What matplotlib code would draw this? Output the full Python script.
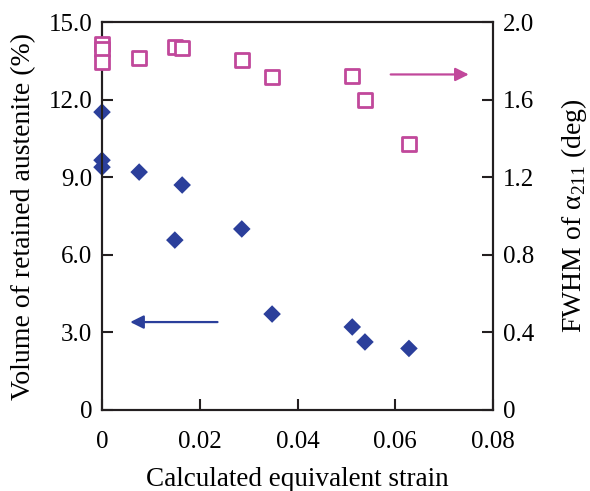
import matplotlib
matplotlib.use("Agg")
import matplotlib.pyplot as plt
from matplotlib.ticker import FixedLocator, FixedFormatter

plt.rcParams["font.family"] = ["Liberation Serif", "DejaVu Serif"]
plt.rcParams["mathtext.fontset"] = "custom"
plt.rcParams["mathtext.rm"] = "Liberation Serif"

# retained austenite (left axis)
strain_ra = [0.0, 0.0, 0.0, 0.0076, 0.0164, 0.0149, 0.0286, 0.0348, 0.0512, 0.0538, 0.0628]
ra_vol = [11.52, 9.66, 9.39, 9.2, 8.7, 6.57, 7.0, 3.71, 3.21, 2.63, 2.38]

# FWHM of alpha211 (right axis)
strain_fw = [0.0, 0.0, 0.0, 0.0076, 0.0149, 0.0164, 0.0286, 0.0348, 0.0512, 0.0538, 0.0628]
fwhm = [1.885, 1.86, 1.795, 1.814, 1.871, 1.866, 1.804, 1.716, 1.72, 1.598, 1.371]

x_ticks = [0, 0.02, 0.04, 0.06, 0.08]
x_labels = ["0", "0.02", "0.04", "0.06", "0.08"]
yl_ticks = [0, 3, 6, 9, 12, 15]
yl_labels = ["0", "3.0", "6.0", "9.0", "12.0", "15.0"]
yr_ticks = [0, 0.4, 0.8, 1.2, 1.6, 2.0]
yr_labels = ["0", "0.4", "0.8", "1.2", "1.6", "2.0"]

BLUE = "#2b3f9b"
MAG = "#c1489b"

fig = plt.figure(figsize=(5.9, 4.91), dpi=100)
ax = fig.add_axes([0.1729, 0.165, 0.6627, 0.790])
ax2 = ax.twinx()

ax.scatter(strain_ra, ra_vol, marker="D", s=80, color=BLUE, edgecolors="none",
           clip_on=False, zorder=3)
ax2.scatter(strain_fw, fwhm, marker="s", s=110, facecolors="white", edgecolors=MAG,
            linewidths=2, clip_on=False, zorder=3)

ax.set_xlim(0, 0.08)
ax.set_ylim(0, 15)
ax2.set_ylim(0, 2.0)

ax.xaxis.set_major_locator(FixedLocator(x_ticks))
ax.xaxis.set_major_formatter(FixedFormatter(x_labels))
ax.yaxis.set_major_locator(FixedLocator(yl_ticks))
ax.yaxis.set_major_formatter(FixedFormatter(yl_labels))
ax2.yaxis.set_major_locator(FixedLocator(yr_ticks))
ax2.yaxis.set_major_formatter(FixedFormatter(yr_labels))

for a in (ax, ax2):
    a.tick_params(direction="in", length=8, width=1.5, labelsize=18, color="#231f20",
                  pad=7)
    for s in a.spines.values():
        s.set_linewidth(1.5)
        s.set_color("#231f20")
ax.tick_params(axis="x", pad=15)

ax.set_xlabel("Calculated equivalent strain", fontsize=19.5, labelpad=10)
ax.set_ylabel("Volume of retained austenite (%)", fontsize=20, labelpad=9)
ax2.set_ylabel("FWHM of α$_{211}$ (deg)", fontsize=20, labelpad=18)

# arrows pointing to the axes
ax.annotate("", xy=(0.0052, 3.4), xytext=(0.0242, 3.4),
            arrowprops=dict(arrowstyle="-|>", color=BLUE, lw=1.6, mutation_scale=20))
ax2.annotate("", xy=(0.0756, 1.73), xytext=(0.0585, 1.73),
             arrowprops=dict(arrowstyle="-|>", color=MAG, lw=1.6, mutation_scale=20))

fig.savefig("out.png", dpi=100)
